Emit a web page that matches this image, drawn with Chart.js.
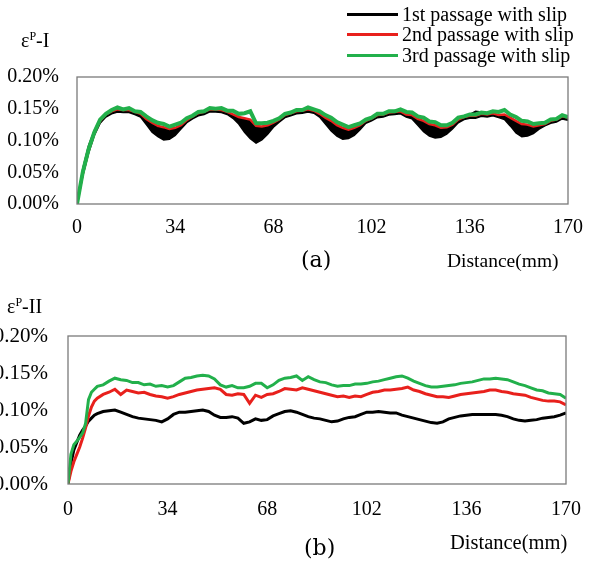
<!DOCTYPE html>
<html>
<head>
<meta charset="utf-8">
<script src="https://cdn.jsdelivr.net/npm/chart.js@4.4.1/dist/chart.umd.min.js"></script>
<style>
  html, body { margin: 0; padding: 0; background: #fff; }
  #wrap { position: relative; width: 595px; height: 569px; overflow: hidden; font-family: "Liberation Serif", "Times New Roman", serif; color: #000; }
  .box { position: absolute; left: 0; width: 595px; }
  .txt { position: absolute; white-space: nowrap; line-height: 1; }
  .leg { position: absolute; left: 347px; height: 20px; white-space: nowrap; font-size: 20px; line-height: 20px; }
  .leg span.ln { position: absolute; left: 0; top: 9px; width: 51px; height: 3px; }
  .leg span.lt { position: absolute; left: 55px; top: 0; }
  sup { font-size: 12px; vertical-align: 7px; line-height: 0; }
</style>
</head>
<body>
<div id="wrap">
  <div class="box" style="top:0;height:280px"><canvas id="c1"></canvas></div>
  <div class="box" style="top:280px;height:289px"><canvas id="c2"></canvas></div>
  <div class="txt" style="left:21px;top:30px;font-size:20px">ε<sup>P</sup>-I</div>
  <div class="txt" style="left:7px;top:296px;font-size:20px">ε<sup>P</sup>-II</div>
  <div class="txt" style="left:301px;top:249px;font-size:22px;font-family:'DejaVu Serif',serif;font-weight:200">(a)</div>
  <div class="txt" style="left:304px;top:537px;font-size:22px;font-family:'DejaVu Serif',serif;font-weight:200">(b)</div>
  <div class="txt" style="left:447px;top:251px;font-size:19.5px">Distance(mm)</div>
  <div class="txt" style="left:450px;top:532px;font-size:20.5px">Distance(mm)</div>
  <div id="legend"></div>
</div>
<script>
// ---------- data ----------
const seriesNames = ["1st passage with slip", "2nd passage with slip", "3rd passage with slip"];
const seriesColors = ["#000000", "#e8201c", "#22b04b"];
const xTickLabels = [0, 34, 68, 102, 136, 170];
const yTickLabels = [0, 0.05, 0.10, 0.15, 0.20];

// (a) distance positions, mm
const xA = [0,2,4,6,8,10,12,14,16,18,20,22,24,26,28,30,32,34,36,38,40,42,44,46,48,50,52,54,56,58,60,62,64,66,68,70,72,74,76,78,80,82,84,86,88,90,92,94,96,98,100,102,104,106,108,110,112,114,116,118,120,122,124,126,128,130,132,134,136,138,140,142,144,146,148,150,152,154,156,158,160,162,164,166,168,170];
// (a) 1st passage: upper and lower edge of the noisy black band (%)
const firstA_hi = [0.000,0.056,0.092,0.116,0.134,0.141,0.145,0.148,0.147,0.147,0.144,0.141,0.133,0.126,0.121,0.119,0.116,0.118,0.122,0.131,0.137,0.142,0.144,0.148,0.148,0.147,0.144,0.140,0.135,0.133,0.131,0.121,0.120,0.122,0.127,0.132,0.139,0.142,0.145,0.146,0.148,0.146,0.141,0.134,0.129,0.122,0.118,0.115,0.118,0.122,0.130,0.134,0.139,0.140,0.143,0.144,0.145,0.140,0.139,0.132,0.129,0.124,0.122,0.118,0.119,0.124,0.132,0.136,0.141,0.146,0.145,0.140,0.142,0.139,0.140,0.134,0.129,0.124,0.123,0.120,0.122,0.125,0.130,0.132,0.137,0.135];
const firstA_lo = [0.000,0.044,0.080,0.108,0.127,0.137,0.142,0.145,0.144,0.144,0.141,0.137,0.125,0.113,0.106,0.101,0.102,0.108,0.118,0.128,0.134,0.139,0.141,0.145,0.145,0.144,0.141,0.135,0.126,0.113,0.103,0.096,0.101,0.110,0.121,0.129,0.136,0.139,0.142,0.143,0.145,0.143,0.137,0.126,0.115,0.107,0.102,0.103,0.108,0.117,0.127,0.131,0.136,0.137,0.140,0.141,0.142,0.137,0.134,0.124,0.114,0.107,0.104,0.105,0.110,0.118,0.128,0.133,0.135,0.135,0.138,0.137,0.139,0.136,0.133,0.123,0.112,0.106,0.107,0.111,0.118,0.123,0.127,0.129,0.134,0.132];
// (a) 2nd passage (%)
const secondA = [0.000,0.048,0.084,0.112,0.131,0.141,0.146,0.149,0.148,0.148,0.145,0.142,0.134,0.128,0.123,0.121,0.118,0.120,0.124,0.132,0.138,0.143,0.145,0.149,0.149,0.148,0.145,0.141,0.137,0.135,0.133,0.123,0.122,0.124,0.128,0.133,0.140,0.143,0.146,0.147,0.149,0.147,0.142,0.136,0.131,0.124,0.120,0.117,0.120,0.124,0.131,0.135,0.140,0.141,0.144,0.145,0.146,0.141,0.140,0.134,0.131,0.126,0.124,0.120,0.121,0.125,0.133,0.137,0.139,0.139,0.142,0.141,0.143,0.140,0.141,0.136,0.131,0.126,0.125,0.122,0.124,0.126,0.131,0.133,0.138,0.136];
// (a) 3rd passage (%)
const thirdA = [0.000,0.050,0.086,0.113,0.133,0.142,0.148,0.152,0.149,0.151,0.146,0.145,0.138,0.132,0.128,0.126,0.122,0.125,0.128,0.135,0.139,0.145,0.146,0.151,0.150,0.151,0.147,0.147,0.142,0.143,0.146,0.127,0.127,0.128,0.131,0.135,0.142,0.144,0.148,0.148,0.152,0.149,0.146,0.140,0.136,0.129,0.125,0.121,0.124,0.127,0.133,0.136,0.142,0.142,0.146,0.146,0.149,0.145,0.144,0.138,0.136,0.130,0.129,0.124,0.124,0.128,0.136,0.138,0.141,0.141,0.144,0.143,0.146,0.145,0.148,0.141,0.137,0.131,0.130,0.126,0.127,0.128,0.133,0.134,0.140,0.137];

// (b) distance positions, mm
const xB = [0,1,2,3,4,5,6,7,8,9,10,12,14,16,18,20,22,24,26,28,30,32,34,36,38,40,42,44,46,48,50,52,54,56,58,60,62,64,66,68,70,72,74,76,78,80,82,84,86,88,90,92,94,96,98,100,102,104,106,108,110,112,114,116,118,120,122,124,126,128,130,132,134,136,138,140,142,144,146,148,150,152,154,156,158,160,162,164,166,168,170];
const firstB = [0.000,0.028,0.046,0.056,0.066,0.073,0.078,0.085,0.089,0.093,0.095,0.098,0.099,0.100,0.097,0.094,0.091,0.089,0.088,0.087,0.086,0.084,0.088,0.094,0.097,0.097,0.098,0.099,0.100,0.098,0.093,0.090,0.090,0.091,0.089,0.082,0.084,0.088,0.086,0.087,0.092,0.095,0.098,0.099,0.097,0.094,0.091,0.089,0.088,0.086,0.084,0.085,0.088,0.090,0.091,0.094,0.097,0.097,0.098,0.097,0.096,0.096,0.093,0.091,0.089,0.087,0.085,0.083,0.082,0.084,0.088,0.090,0.092,0.093,0.094,0.094,0.094,0.094,0.094,0.093,0.091,0.088,0.086,0.085,0.086,0.087,0.089,0.090,0.091,0.093,0.096];
const secondB = [0.000,0.017,0.030,0.040,0.050,0.062,0.076,0.092,0.104,0.112,0.116,0.121,0.124,0.128,0.121,0.127,0.125,0.123,0.124,0.121,0.119,0.118,0.116,0.118,0.121,0.123,0.125,0.127,0.128,0.129,0.130,0.128,0.121,0.120,0.122,0.121,0.109,0.120,0.117,0.121,0.122,0.125,0.129,0.128,0.127,0.130,0.128,0.126,0.124,0.122,0.120,0.118,0.119,0.117,0.119,0.118,0.121,0.124,0.125,0.127,0.127,0.128,0.129,0.131,0.127,0.125,0.122,0.120,0.118,0.118,0.117,0.119,0.121,0.122,0.123,0.124,0.125,0.127,0.127,0.125,0.124,0.122,0.121,0.120,0.117,0.115,0.113,0.112,0.112,0.111,0.107];
const thirdB = [0.000,0.040,0.053,0.058,0.063,0.069,0.082,0.114,0.124,0.128,0.132,0.134,0.139,0.143,0.141,0.140,0.137,0.137,0.134,0.135,0.132,0.133,0.131,0.133,0.138,0.143,0.144,0.146,0.147,0.146,0.142,0.134,0.131,0.133,0.130,0.130,0.132,0.136,0.136,0.130,0.134,0.140,0.143,0.144,0.146,0.140,0.145,0.141,0.138,0.137,0.134,0.132,0.133,0.133,0.135,0.135,0.136,0.138,0.139,0.141,0.143,0.145,0.146,0.143,0.139,0.136,0.133,0.131,0.131,0.132,0.133,0.134,0.136,0.137,0.138,0.140,0.142,0.142,0.143,0.142,0.141,0.138,0.135,0.133,0.130,0.127,0.126,0.123,0.122,0.121,0.116];

// ---------- helpers ----------
const pts = (xs, ys) => xs.map((x, i) => ({ x: x, y: ys[i] }));

const framePlugin = {
  id: 'frame',
  afterDatasetsDraw(chart) {
    const { ctx, chartArea: a } = chart;
    ctx.save();
    ctx.strokeStyle = '#7a7a7a';
    ctx.lineWidth = 1.3;
    ctx.strokeRect(a.left, a.top, a.right - a.left, a.bottom - a.top);
    ctx.restore();
  }
};

function makeOptions(cfg) {
  return {
    responsive: true,
    maintainAspectRatio: false,
    animation: false,
    layout: { padding: { top: cfg.padTop, right: cfg.padRight, left: 0, bottom: 0 } },
    plugins: { legend: { display: false }, tooltip: { enabled: false } },
    elements: { point: { radius: 0 }, line: { tension: 0 } },
    scales: {
      x: {
        type: 'linear', min: 0, max: 170,
        afterBuildTicks: s => { s.ticks = xTickLabels.map(v => ({ value: v })); },
        afterFit: s => { s.height = cfg.xHeight; },
        grid: { display: false, drawTicks: false },
        border: { display: false },
        ticks: {
          autoSkip: false, maxRotation: 0, padding: cfg.xPad, color: '#000',
          font: { family: 'Liberation Serif', size: 20 },
          callback: v => String(v)
        }
      },
      y: {
        type: 'linear', min: 0, max: 0.2,
        afterBuildTicks: s => { s.ticks = yTickLabels.map(v => ({ value: v })); },
        afterFit: s => { s.width = cfg.yWidth; },
        grid: { display: false, drawTicks: false },
        border: { display: false },
        ticks: {
          padding: cfg.yPad, color: '#000',
          font: { family: 'Liberation Serif', size: cfg.yFont },
          callback: v => Number(v).toFixed(2) + '%'
        }
      }
    }
  };
}

// ---------- chart (a) ----------
new Chart(document.getElementById('c1'), {
  type: 'line',
  data: {
    datasets: [
      { label: seriesNames[2], data: pts(xA, thirdA), borderColor: seriesColors[2], borderWidth: 4, fill: false, order: 0 },
      { label: seriesNames[1], data: pts(xA, secondA), borderColor: seriesColors[1], borderWidth: 2.5, fill: false, order: 1 },
      { label: seriesNames[0], data: pts(xA, firstA_hi), borderColor: seriesColors[0], borderWidth: 1.5, backgroundColor: seriesColors[0], fill: '+1', order: 2 },
      { label: seriesNames[0] + ' (band)', data: pts(xA, firstA_lo), borderColor: seriesColors[0], borderWidth: 1.5, fill: false, order: 3 }
    ]
  },
  options: makeOptions({ padTop: 77, padRight: 20, xHeight: 76, yWidth: 77, xPad: 12, yPad: 18, yFont: 20 }),
  plugins: [framePlugin]
});

// ---------- chart (b) ----------
new Chart(document.getElementById('c2'), {
  type: 'line',
  data: {
    datasets: [
      { label: seriesNames[2], data: pts(xB, thirdB), borderColor: seriesColors[2], borderWidth: 3, fill: false, order: 0 },
      { label: seriesNames[1], data: pts(xB, secondB), borderColor: seriesColors[1], borderWidth: 3, fill: false, order: 1 },
      { label: seriesNames[0], data: pts(xB, firstB), borderColor: seriesColors[0], borderWidth: 3, fill: false, order: 2 }
    ]
  },
  options: makeOptions({ padTop: 56, padRight: 15, xHeight: 85, yWidth: 68, xPad: 14, yPad: 20, yFont: 21 }),
  plugins: [framePlugin]
});

// ---------- legend ----------
const legendEl = document.getElementById('legend');
const legTops = [4, 24, 45];
seriesNames.forEach((name, i) => {
  const row = document.createElement('div');
  row.className = 'leg';
  row.style.top = legTops[i] + 'px';
  row.innerHTML = '<span class="ln" style="background:' + seriesColors[i] + '"></span><span class="lt">' + name + '</span>';
  legendEl.appendChild(row);
});
</script>
</body>
</html>
